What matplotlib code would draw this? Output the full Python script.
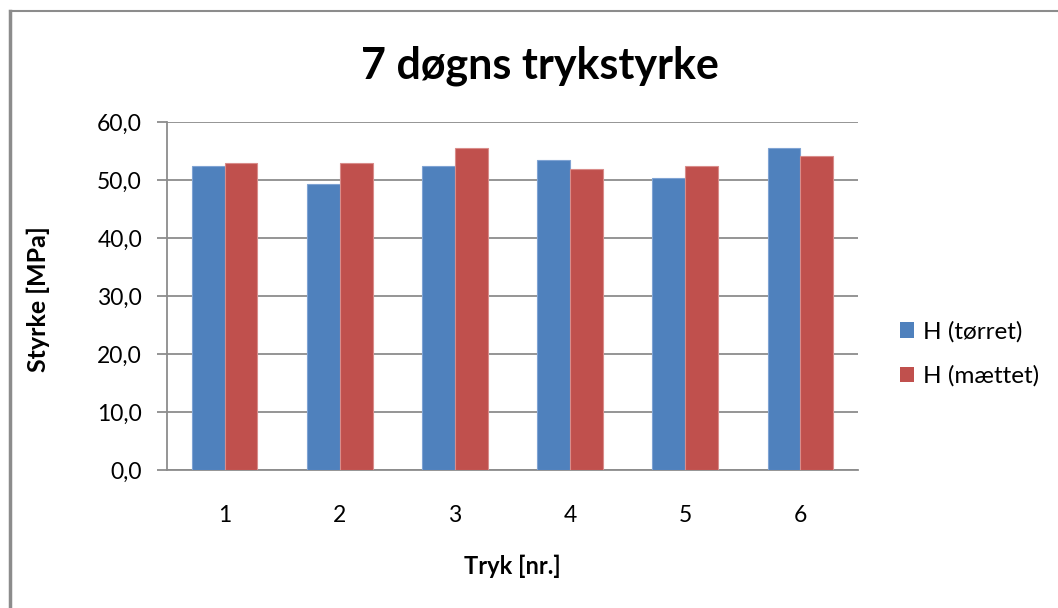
import matplotlib.pyplot as plt
import numpy as np
from matplotlib.lines import Line2D
from matplotlib.patches import Patch

# data
tryk = ['1', '2', '3', '4', '5', '6']
h_torret = [52.4, 49.3, 52.5, 53.4, 50.3, 55.5]
h_maettet = [52.9, 52.9, 55.6, 51.9, 52.4, 54.1]

plt.rcParams['font.family'] = ['Lato', 'DejaVu Sans']

blue = '#4F81BD'
red = '#C0504D'
grid_col = '#8C8C8C'

fig = plt.figure(figsize=(10.58, 6.08), dpi=100)
ax = fig.add_axes([167/1058, 1-470/608, (858-167)/1058, (470-122)/608])

x = np.arange(len(tryk))
w = 0.2857
ax.bar(x - w/2, h_torret, w, color=blue, edgecolor='#7FA3D3', linewidth=0.8,
       label='H (tørret)', zorder=3)
ax.bar(x + w/2, h_maettet, w, color=red, edgecolor='#D98C8A', linewidth=0.8,
       label='H (mættet)', zorder=3)

ax.set_xlim(-0.5, len(tryk) - 0.5)
ax.set_ylim(0, 60)
ax.set_yticks(np.arange(0, 61, 10))
ax.set_yticklabels([f'{v:.1f}'.replace('.', ',') for v in np.arange(0, 61, 10)])
ax.set_xticks(x)
ax.set_xticklabels(tryk)

ax.grid(axis='y', color=grid_col, linewidth=1.3, zorder=0)
for s in ['top', 'right']:
    ax.spines[s].set_visible(False)
for s in ['left', 'bottom']:
    ax.spines[s].set_color(grid_col)
    ax.spines[s].set_linewidth(1.3)
ax.tick_params(axis='y', length=7, width=1.3, color=grid_col, pad=11, labelsize=16.5)
ax.tick_params(axis='x', length=0, pad=25, labelsize=16.5)

fig.text(540/1058, 1-66/608, '7 døgns trykstyrke', ha='center', va='center',
         fontsize=31, fontweight='bold')
fig.text(38/1058, 1-299/608, 'Styrke [MPa]', ha='center', va='center',
         rotation=90, fontsize=18, fontweight='bold')
fig.text(512/1058, 1-566/608, 'Tryk [nr.]', ha='center', va='center',
         fontsize=17, fontweight='bold')

handles = [Patch(facecolor=blue, edgecolor='none'), Patch(facecolor=red, edgecolor='none')]
fig.legend(handles, ['H (tørret)', 'H (mættet)'], loc='center left',
           bbox_to_anchor=(878/1058, 1-354/608), frameon=False, fontsize=17.5,
           handlelength=0.6, handleheight=0.6, handletextpad=0.35, labelspacing=0.95)

# outer chart border (top and left visible)
fig.add_artist(Line2D([9.5/1058, 1], [1-10.5/608, 1-10.5/608], color='#8C8C8C', lw=1.5))
fig.add_artist(Line2D([9.5/1058, 9.5/1058], [0, 1-10.5/608], color='#8C8C8C', lw=2.5))

fig.savefig('out.png', dpi=100)
